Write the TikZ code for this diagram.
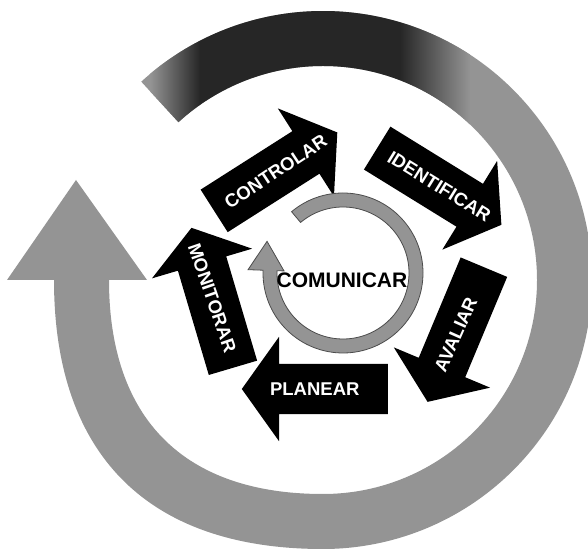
\documentclass[tikz,border=0pt]{standalone}
\usepackage{fontspec}
\setmainfont{Liberation Sans}
\usetikzlibrary{shapes.arrows, calc}

\colorlet{ringgray}{black!42}
\colorlet{ringdark}{black!85}

\begin{document}
\begin{tikzpicture}[x=1pt, y=1pt,
        stage/.style={single arrow, fill=black, draw=none, inner xsep=0pt, inner ysep=25pt, minimum height=146pt, single arrow head extend=27pt, single arrow tip angle=109, single arrow head indent=0pt},
        stagetext/.style={text=white, font=\fontsize{18.5}{18.5}\selectfont\bfseries, inner sep=0pt},
        hub/.style={font=\fontsize{21}{21}\selectfont\bfseries, inner sep=0pt},
        outerloop/.style={insert path={($(oc)+(132.5:269)$) arc[start angle=132.5, end angle=-90, radius=269]
            .. controls (148,-1) and (54,93) .. (54,268)
            -- (7,268) -- (otip) -- (147,268) -- (109,268)
            .. controls (109,129) and (184,54) .. (323,54)
            arc[start angle=-90, end angle=132.5, radius=214] -- cycle}}
    ]
    \useasboundingbox (0,0) rectangle (588,548);
    \clip (0,0) rectangle (588,548);

    % Outer cycle, darker along the top
    \coordinate (oc) at (323,268);
    \coordinate (otip) at (76,368);
    \path[fill=ringgray, outerloop];
    \begin{scope}
        \clip[outerloop];
        \shade[left color=ringgray, right color=ringdark] (150,400) rectangle (200,548);
        \fill[ringdark] (200,400) rectangle (400,548);
        \shade[left color=ringdark, right color=ringgray] (400,400) rectangle (470,548);
    \end{scope}

    % Steps
    \node[stage, rotate=32.5, anchor=tail] (ctl) at (214,337) {};
    \node[stage, rotate=-31.7, anchor=tail] (idf) at (377,400) {};
    \node[stage, rotate=-112.7, anchor=tail] (aval) at (484,281) {};
    \node[stage, rotate=180, anchor=tail] (plan) at (388,159) {};
    \node[stage, rotate=106.5, anchor=tail] (mon) at (233,180) {};

    \node[stagetext, rotate=33.5] (ctltxt) at ($(ctl.tail)!.5!(ctl.tip)$) {CONTROLAR};
    \node[stagetext, rotate=-31.7] (idftxt) at ($(idf.tail)!.5!(idf.tip)$) {IDENTIFICAR};
    \node[stagetext, rotate=66] (avaltxt) at ($(aval.tail)!.5!(aval.tip)$) {AVALIAR};
    \node[stagetext] (plantxt) at ($(plan.tail)!.5!(plan.tip)$) {PLANEAR};
    \node[stagetext, rotate=-71] (montxt) at ($(mon.tail)!.5!(mon.tip)$) {MONITORAR};

    % Inner cycle
    \coordinate (ic) at (343,275);
    \coordinate (itip) at ($(ic)+(-182:77)+(88:29)$);
    \path[fill=ringgray, draw=black!70, line width=0.8pt]
        ($(ic)+(130:80)$) arc[start angle=130, end angle=-182, radius=80]
        -- ($(ic)+(-182:95)$) -- (itip) -- ($(ic)+(-182:59)$)
        -- ($(ic)+(-182:66)$) arc[start angle=-182, end angle=130, radius=66] -- cycle;

    \node[hub] (com) at (342,267.5) {COMUNICAR};
\end{tikzpicture}
\end{document}
